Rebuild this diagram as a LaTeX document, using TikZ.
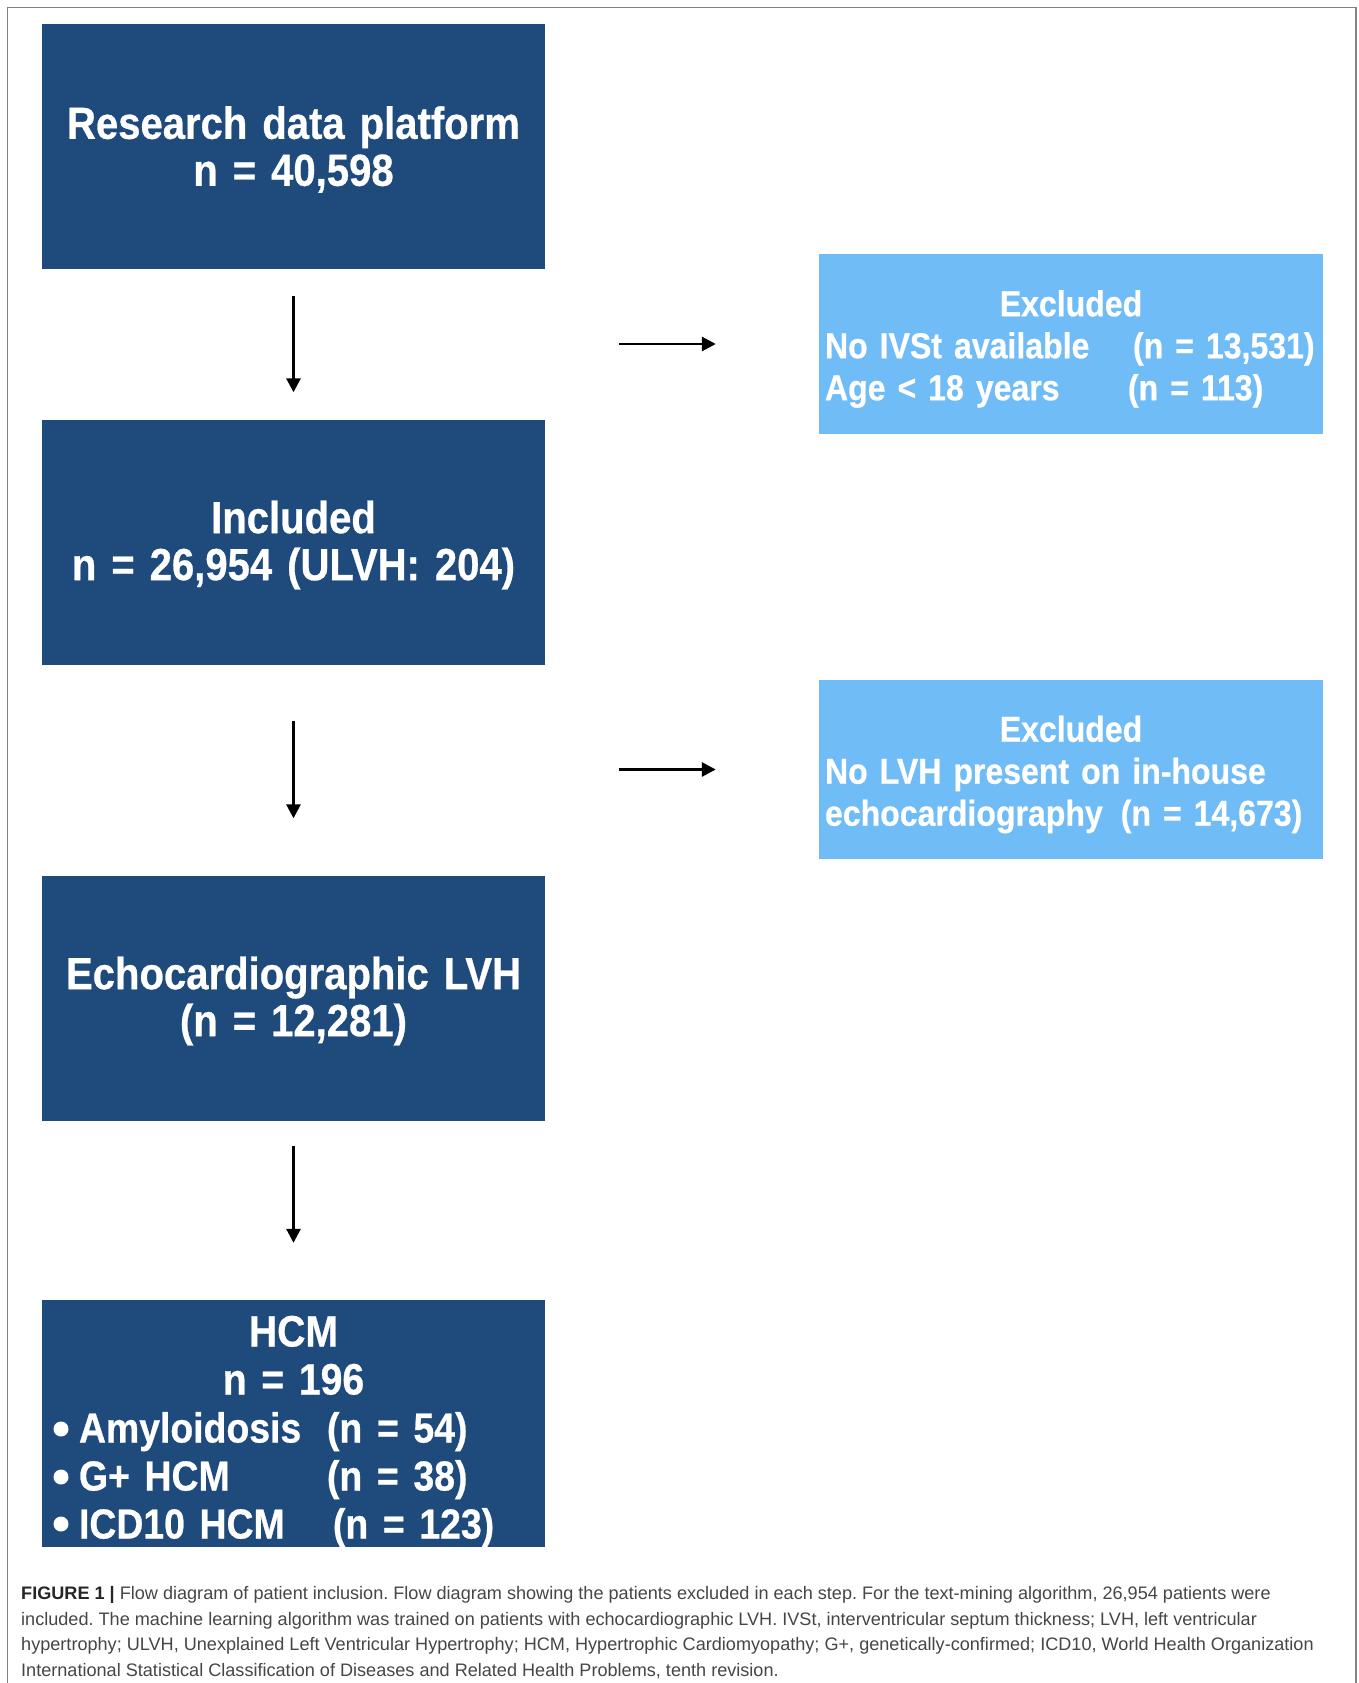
\documentclass[tikz,border=0pt]{standalone}
\usepackage{fontspec}
\usetikzlibrary{arrows.meta}
\newfontfamily\boxfont[FakeStretch=0.89,WordSpace=0.6,BoldFont={Liberation Sans Bold},BoldFeatures={FakeBold=0.6}]{Liberation Sans}
\newfontfamily\capfont[BoldFont={Liberation Sans Bold}]{Liberation Sans}
\definecolor{dblue}{RGB}{31,74,124}
\definecolor{lblue}{RGB}{112,188,247}
\definecolor{capgray}{RGB}{70,70,70}
\definecolor{framegray}{RGB}{130,130,130}
\frenchspacing
\begin{document}
\begin{tikzpicture}[x=1pt,y=-1pt,
  dbox/.style={fill=dblue,draw=none,minimum width=503pt,minimum height=245pt,inner sep=0pt},
  dtext/.style={inner sep=0pt,text width=503pt,align=center,text=white,
    font=\boxfont\bfseries\fontsize{45}{47}\selectfont},
  lbox/.style={fill=lblue,draw=none,minimum width=504pt,minimum height=180pt,inner sep=0pt},
  ltext/.style={inner sep=0pt,text width=504pt,align=center,text=white,
    font=\boxfont\bfseries\fontsize{36}{42}\selectfont},
  dot/.style={fill=white},
  arr/.style={line width=2.8pt,-{Triangle[length=14pt,width=14pt]}}]
\useasboundingbox (0,0) rectangle (1358,1683);
\fill[white] (0,0) rectangle (1358,1683);
\draw[framegray,line width=1.5pt] (7.5,1683) -- (7.5,7.5) -- (1356,7.5) -- (1356,1683);

\node[dbox] (b1) at (293.5,146.5) {};
\node[dtext,yshift=-3pt] (b1t) at (b1) {Research data platform\\n = 40,598};
\node[dbox] (b2) at (293.5,542) {};
\node[dtext,yshift=-3pt] (b2t) at (b2) {Included\\n = 26,954 (ULVH: 204)};
\node[dbox] (b3) at (293.5,998) {};
\node[dtext,yshift=-3pt] (b3t) at (b3) {Echocardiographic LVH\\(n = 12,281)};
\node[dbox,minimum height=247pt] (b4) at (293.5,1423.5) {};
\node[dtext,yshift=-8pt,font=\boxfont\bfseries\fontsize{44}{48}\selectfont] (b4t) at (b4)
  {HCM\\n = 196\\
   {\fontsize{42}{48}\selectfont
   \makebox[503pt][l]{\hspace{10pt}\makebox[275pt][l]{\hspace{27pt}Amyloidosis}(n = 54)}\\
   \makebox[503pt][l]{\hspace{10pt}\makebox[275pt][l]{\hspace{27pt}G+ HCM}(n = 38)}\\
   \makebox[503pt][l]{\hspace{10pt}\makebox[281pt][l]{\hspace{27pt}ICD10 HCM}(n = 123)}}};
\fill[dot] (61,1429) circle (7.5);
\fill[dot] (61,1477) circle (7.5);
\fill[dot] (61,1524) circle (7.5);

\node[lbox] (e1) at (1071,344) {};
\node[ltext,yshift=-5pt] (e1t) at (e1)
  {Excluded\\
   \makebox[504pt][l]{\hspace{6pt}\makebox[308pt][l]{No IVSt available}(n = 13,531)}\\
   \makebox[504pt][l]{\hspace{6pt}\makebox[303pt][l]{Age < 18 years}(n = 113)}};
\node[lbox,minimum height=179pt] (e2) at (1071,769.5) {};
\node[ltext,yshift=-5pt] (e2t) at (e2)
  {Excluded\\
   \makebox[504pt][l]{\hspace{6pt}No LVH present on in-house}\\
   \makebox[504pt][l]{\hspace{6pt}echocardiography\hspace{18pt}(n = 14,673)}};

\draw[arr,shorten <=27pt,shorten >=27pt] (b1) -- (b2);
\draw[arr,shorten <=56pt,shorten >=57pt] (b2) -- (b3);
\draw[arr,shorten <=25pt,shorten >=57pt] (b3) -- (b4);

\coordinate (j1) at (619,344);
\coordinate (j2) at (619,769.5);
\draw[arr,shorten >=103pt] (j1) -- (e1.west);
\draw[arr,shorten >=103pt] (j2) -- (e2.west);

\node[anchor=north west,inner sep=0pt,align=left,text=capgray,
  font=\capfont\fontsize{18.1}{25.7}\selectfont] (cap) at (21,1586)
  {{\bfseries\color{black!85}FIGURE 1 |} Flow diagram of patient inclusion. Flow diagram showing the patients excluded in each step. For the text-mining algorithm, 26,954 patients were\\
  included. The machine learning algorithm was trained on patients with echocardiographic LVH. IVSt, interventricular septum thickness; LVH, left ventricular\\
  hypertrophy; ULVH, Unexplained Left Ventricular Hypertrophy; HCM, Hypertrophic Cardiomyopathy; G+, genetically-confirmed; ICD10, World Health Organization\\
  International Statistical Classification of Diseases and Related Health Problems, tenth revision.};
\end{tikzpicture}
\end{document}
